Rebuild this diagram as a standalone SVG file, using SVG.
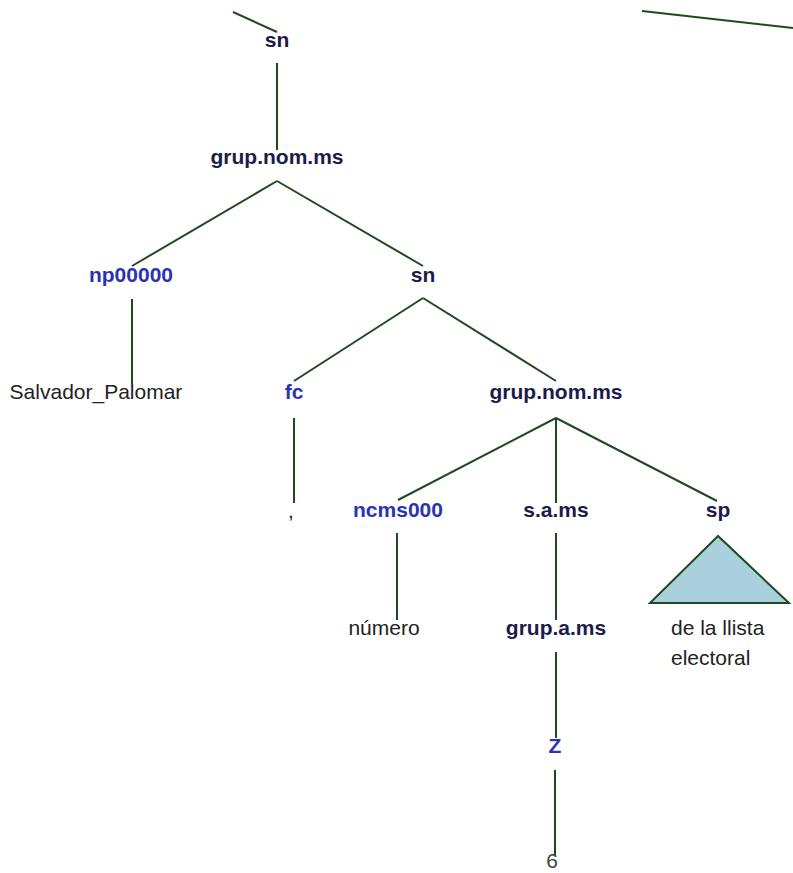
<svg xmlns="http://www.w3.org/2000/svg" width="793" height="873" viewBox="0 0 793 873">
<style>
text{font-family:"Liberation Sans",Arial,sans-serif;font-size:21px}
.nt{font-weight:bold;fill:#1c1c48;text-anchor:middle}
.pos{font-weight:bold;fill:#2a34b0;text-anchor:middle}
.w{fill:#222;text-anchor:middle}
.e line{stroke:#1f4a1f;stroke-width:2}
</style>
<rect width="793" height="873" fill="#fff"/>
<g id="connectors" class="e">
<line x1="233" y1="12" x2="277" y2="32"/>
<line x1="642" y1="11" x2="793" y2="28"/>
<line x1="277" y1="63" x2="277" y2="150"/>
<line x1="277" y1="181" x2="132" y2="266"/>
<line x1="277" y1="181" x2="423" y2="266"/>
<line x1="132" y1="299" x2="132" y2="384"/>
<line x1="423" y1="298" x2="294" y2="381"/>
<line x1="423" y1="298" x2="556" y2="381"/>
<line x1="294" y1="418" x2="294" y2="503"/>
<line x1="556" y1="418" x2="398" y2="500"/>
<line x1="556" y1="418" x2="556" y2="503"/>
<line x1="556" y1="418" x2="717" y2="501"/>
<line x1="397" y1="533" x2="397" y2="620"/>
<line x1="556" y1="533" x2="556" y2="620"/>
<line x1="556" y1="652" x2="556" y2="738"/>
<line x1="555" y1="770" x2="555" y2="855"/>
</g>
<g id="n_sn_top"><text class="nt" x="277" y="47">sn</text></g>
<g id="n_grup_nom_ms_1"><text class="nt" x="277" y="164">grup.nom.ms</text></g>
<g id="n_np00000"><text class="pos" x="131" y="282">np00000</text></g>
<g id="n_Salvador_Palomar"><text class="w" x="96" y="399">Salvador_Palomar</text></g>
<g id="n_sn_2"><text class="nt" x="423" y="282">sn</text></g>
<g id="n_fc"><text class="pos" x="294" y="399">fc</text></g>
<g id="n_comma"><text class="w" x="291" y="518">,</text></g>
<g id="n_grup_nom_ms_2"><text class="nt" x="556" y="399">grup.nom.ms</text></g>
<g id="n_ncms000"><text class="pos" x="398" y="517">ncms000</text></g>
<g id="n_numero"><text class="w" x="384" y="635">número</text></g>
<g id="n_s_a_ms"><text class="nt" x="556" y="517">s.a.ms</text></g>
<g id="n_grup_a_ms"><text class="nt" x="556" y="635">grup.a.ms</text></g>
<g id="n_Z"><text class="pos" x="555" y="753">Z</text></g>
<g id="n_6"><text class="w" x="552" y="868" fill="#444" style="fill:#444">6</text></g>
<g id="n_sp"><text class="nt" x="718" y="517">sp</text>
<polygon points="718,536 650,603 789,603" fill="#a9d0dc" stroke="#1f4a1f" stroke-width="2"/>
<text class="w" x="671" y="635" style="text-anchor:start">de la llista</text>
<text class="w" x="671" y="665" style="text-anchor:start">electoral</text>
</g>
</svg>
